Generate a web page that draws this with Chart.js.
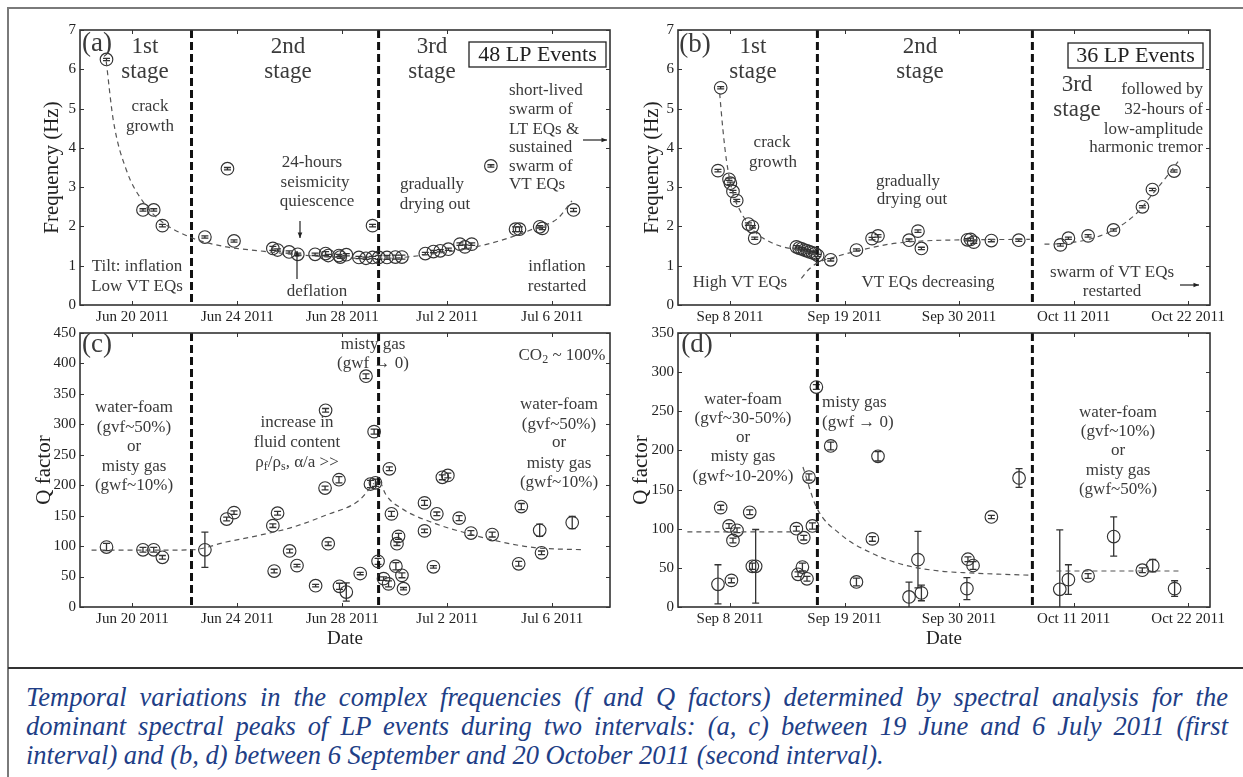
<!DOCTYPE html>
<html>
<head>
<meta charset="utf-8">
<script src="https://cdn.jsdelivr.net/npm/chart.js@4.4.0/dist/chart.umd.min.js"></script>
<style>
  html, body { margin: 0; padding: 0; background: #fff; }
  body { width: 1243px; height: 777px; position: relative; overflow: hidden; }
  canvas { position: absolute; left: 0; top: 0; }
  .rule { position: absolute; }
  #caption { position: absolute; left: 26px; top: 683px; width: 1202px;
             font: italic 26.5px 'Liberation Serif', serif; color: #213e86; line-height: 29px; }
  #caption div { white-space: nowrap; }
  #caption .j { white-space: normal; text-align: justify; text-align-last: justify; }
</style>
</head>
<body>
<div class="rule" style="left:8px;top:7px;width:1235px;height:2px;background:#7a7a7a"></div>
<div class="rule" style="left:7px;top:7px;width:2px;height:770px;background:#7a7a7a"></div>
<div class="rule" style="left:8px;top:667px;width:1235px;height:2px;background:#333"></div>

<canvas id="pa" width="1243" height="665"></canvas>
<canvas id="pb" width="1243" height="665"></canvas>
<canvas id="pc" width="1243" height="665"></canvas>
<canvas id="pd" width="1243" height="665"></canvas>

<div id="caption">
  <div class="j">Temporal variations in the complex frequencies (f and Q factors) determined by spectral analysis for the</div>
  <div class="j">dominant spectral peaks of LP events during two intervals: (a, c) between 19 June and 6 July 2011 (first</div>
  <div>interval) and (b, d) between 6 September and 20 October 2011 (second interval).</div>
</div>

<script>
// ===== First interval (day 0 = 18 June 2011) =====
const ticks1 = [2, 6, 10, 14, 18];
const tickLabels1 = ['Jun 20 2011', 'Jun 24 2011', 'Jun 28 2011', 'Jul 2 2011', 'Jul 6 2011'];
const stageBounds1 = [4.25, 11.38];

// dominant frequency (Hz)
const fDays1 = [1.01, 2.40, 2.81, 3.14, 4.76, 5.62, 5.87, 7.35, 7.53, 7.97, 8.30, 8.96, 9.36, 9.46, 9.87, 9.92,
  10.15, 10.63, 10.90, 11.15, 11.15, 11.39, 11.70, 12.02, 12.27, 13.16, 13.47, 13.73, 14.04, 14.48, 14.67, 14.93,
  15.66, 16.60, 16.75, 17.52, 17.62, 18.81];
const fVals1 = [6.25, 2.42, 2.42, 2.02, 1.73, 3.47, 1.63, 1.44, 1.40, 1.35, 1.29, 1.29, 1.31, 1.26, 1.26, 1.22,
  1.28, 1.21, 1.19, 1.21, 2.02, 1.21, 1.21, 1.22, 1.22, 1.31, 1.36, 1.38, 1.42, 1.55, 1.48, 1.55,
  3.54, 1.93, 1.93, 1.99, 1.95, 2.42];
const fErr1 = [0.03, 0.03, 0.03, 0.03, 0.03, 0.03, 0.03, 0.05, 0.03, 0.03, 0.03, 0.03, 0.05, 0.03, 0.03, 0.03,
  0.03, 0.03, 0.03, 0.03, 0.03, 0.05, 0.05, 0.05, 0.05, 0.03, 0.03, 0.03, 0.03, 0.03, 0.05, 0.03,
  0.03, 0.06, 0.06, 0.03, 0.03, 0.04];
const fitFDays1 = [1.0, 1.27, 1.77, 2.40, 3.04, 4.3, 5.57, 6.83, 8.1, 9.36, 10.63, 11.5, 12.27, 13.54, 14.8, 16.07, 17.33, 18.2, 18.75];
const fitFVals1 = [6.2, 4.7, 3.43, 2.63, 2.16, 1.70, 1.48, 1.38, 1.29, 1.23, 1.19, 1.19, 1.21, 1.31, 1.44, 1.65, 1.95, 2.2, 2.65];

// Q factor
const qDays1 = [1.01, 2.40, 2.81, 3.14, 4.76, 5.59, 5.87, 7.35, 7.40, 7.53, 7.99, 8.27, 8.98, 9.34, 9.36, 9.46,
  9.87, 9.89, 10.15, 10.68, 10.90, 11.07, 11.21, 11.26, 11.36, 11.57, 11.76, 11.79, 11.87, 12.04, 12.08, 12.14,
  12.27, 12.33, 13.13, 13.13, 13.47, 13.60, 13.81, 14.02, 14.45, 14.90, 15.71, 16.72, 16.82, 17.52, 17.59, 18.76];
const qVals1 = [98.5, 94, 94, 81.6, 94, 144.5, 155, 133.6, 59, 154, 92, 68, 35, 195.4, 323, 104,
  209, 34, 24.6, 55, 379, 202, 288, 204, 75, 46.6, 38, 227, 153, 67, 104, 116,
  52, 30, 171, 125, 66, 153, 213, 216, 146, 121.5, 119, 71, 165, 126, 89, 138.6];
const qErr1 = [6, 4, 4, 3, 29, 3, 3, 3, 3, 3, 3, 2, 2, 3, 3, 3,
  5, 5, 15, 2, 4, 6, 4, 6, 5, 3, 5, 3, 4, 6, 3, 5,
  4, 2, 4, 3, 2, 3, 4, 4, 4, 4, 4, 4, 5, 10, 3, 10];
const fitQDays1a = [0.44, 2.0, 3.5, 4.3, 5.57, 6.83, 8.1, 9.36, 10.63, 11.2];
const fitQVals1a = [93.5, 93.5, 93.5, 94, 106.7, 117.7, 131, 150.6, 175, 203];
const fitQDays1b = [11.45, 11.64, 12.27, 13.54, 14.8, 16.07, 17.33, 19.17];
const fitQVals1b = [206, 186, 161.6, 137, 120.5, 106.7, 97.5, 94];

// ===== Second interval (day 0 = 3 September 2011) =====
const ticks2 = [5, 16, 27, 38, 49];
const tickLabels2 = ['Sep 8 2011', 'Sep 19 2011', 'Sep 30 2011', 'Oct 11 2011', 'Oct 22 2011'];
const stageBounds2 = [13.39, 34.04];

const fDays2 = [3.84, 4.10, 4.90, 5.03, 5.28, 5.64, 6.76, 7.15, 7.37, 11.37, 11.63, 11.88, 12.14, 12.40, 12.65,
  12.91, 13.17, 13.42, 14.67, 17.14, 18.64, 19.21, 22.19, 23.05, 23.38, 27.80, 28.10, 28.41, 30.10, 32.73,
  36.73, 37.50, 39.39, 41.83, 44.61, 45.57, 47.65];
const fVals2 = [3.42, 5.53, 3.20, 3.10, 2.89, 2.66, 2.06, 1.99, 1.70, 1.48, 1.45, 1.43, 1.40, 1.38, 1.35,
  1.33, 1.31, 1.26, 1.15, 1.40, 1.69, 1.76, 1.65, 1.88, 1.44, 1.66, 1.67, 1.60, 1.64, 1.65,
  1.53, 1.70, 1.76, 1.91, 2.50, 2.94, 3.41];
const fErr2 = fDays2.map(() => 0.03);
const fitFDays2a = [4.0, 4.32, 4.65, 5.28, 5.93, 7.2, 9.13, 11.37, 13.45];
const fitFVals2a = [5.39, 4.45, 3.69, 2.84, 2.42, 1.91, 1.57, 1.40, 1.27];
const fitFDays2b = [11.85, 12.65, 13.61, 14.89, 17.14, 20.34, 23.54, 28.0, 33.8];
const fitFVals2b = [0.68, 0.93, 1.10, 1.21, 1.37, 1.55, 1.63, 1.66, 1.67];
const fitFDays2c = [35.2, 36.7, 39.87, 42.1, 44.03, 45.63, 46.92, 48.03];
const fitFVals2c = [1.55, 1.56, 1.70, 1.95, 2.33, 2.84, 3.26, 3.65];

const qDays2 = [3.84, 4.10, 4.90, 5.13, 5.28, 5.67, 6.89, 7.14, 7.46, 11.37, 11.53, 11.95, 12.08, 12.39, 12.58,
  12.91, 13.29, 14.67, 17.14, 18.67, 19.21, 22.19, 23.05, 23.38, 27.75, 27.85, 28.34, 30.10, 32.76, 36.67,
  37.50, 39.39, 41.85, 44.60, 45.60, 47.70];
const qVals2 = [29, 127, 103.5, 34, 85, 98, 121, 52, 52, 100, 41.8, 51, 88.6, 36, 166,
  103.5, 281, 205.7, 32, 87, 192.5, 12.8, 60.5, 18, 23.5, 61, 53, 115, 164.8, 22.6,
  35, 39.6, 90, 47, 52.8, 23.5];
const qErr2 = [25, 3, 3, 3, 3, 3, 3, 4, 47, 3, 3, 5, 3, 3, 4,
  4, 3, 5, 5, 3, 6, 19, 36, 10, 14, 3, 5, 2, 12, 76,
  19, 3, 25, 3, 8, 10];
const fitQDays2a = [0.9, 11.1];
const fitQVals2a = [96, 96];
const fitQDays2b = [12.0, 13.29, 15.53, 18.73, 21.94, 25.14, 28.0, 33.95];
const fitQVals2b = [178.8, 127.7, 93.7, 68, 53, 46, 43.5, 40.5];
const fitQDays2c = [36.35, 48.36];
const fitQVals2c = [46, 46];

// ===== drawing helpers =====
const W = 1243, H = 665;
const SERIF = "'Liberation Serif', serif";
const TEXT = '#3a3a3a';
Chart.defaults.font.family = SERIF;

function pts(xs, ys) { return xs.map((x, i) => ({ x: x, y: ys[i] })); }

function markers(xs, ys, errs) {
  return {
    data: pts(xs, ys), errors: errs, pointRadius: 6.3, pointHoverRadius: 6.3, pointBorderWidth: 1.15,
    borderColor: '#333', backgroundColor: 'rgba(0,0,0,0)', pointStyle: 'circle', showLine: false
  };
}
function fitLine(xs, ys) {
  return {
    data: pts(xs, ys), showLine: true, pointRadius: 0, borderColor: '#555', borderWidth: 1.2,
    borderDash: [5, 4], cubicInterpolationMode: 'monotone', fill: false
  };
}

function arrow(ctx, x0, y0, x1, y1) {
  const ang = Math.atan2(y1 - y0, x1 - x0), L = 6;
  ctx.beginPath(); ctx.moveTo(x0, y0); ctx.lineTo(x1, y1); ctx.stroke();
  ctx.beginPath();
  ctx.moveTo(x1, y1);
  ctx.lineTo(x1 - L * Math.cos(ang - 0.4), y1 - L * Math.sin(ang - 0.4));
  ctx.lineTo(x1 - L * Math.cos(ang + 0.4), y1 - L * Math.sin(ang + 0.4));
  ctx.closePath(); ctx.fill();
}

function decor(p) {
  return {
    id: 'decor',
    beforeDatasetsDraw(chart) {
      const { ctx, chartArea: a, scales: { x, y } } = chart;
      ctx.save();
      ctx.beginPath(); ctx.rect(a.left, a.top, a.right - a.left, a.bottom - a.top); ctx.clip();
      // error bars
      ctx.strokeStyle = '#333'; ctx.lineWidth = 1.3;
      chart.data.datasets.forEach(ds => {
        if (!ds.errors) return;
        ds.data.forEach((pt, i) => {
          const e = ds.errors[i];
          const px = x.getPixelForValue(pt.x);
          const y0 = y.getPixelForValue(pt.y - e), y1 = y.getPixelForValue(pt.y + e);
          ctx.beginPath();
          ctx.moveTo(px, y0); ctx.lineTo(px, y1);
          ctx.moveTo(px - 3.5, y0); ctx.lineTo(px + 3.5, y0);
          ctx.moveTo(px - 3.5, y1); ctx.lineTo(px + 3.5, y1);
          ctx.stroke();
        });
      });
      // stage boundaries
      ctx.strokeStyle = '#111'; ctx.lineWidth = 3; ctx.setLineDash([8, 4]);
      p.stages.forEach(d => {
        const px = x.getPixelForValue(d);
        ctx.beginPath(); ctx.moveTo(px, a.top); ctx.lineTo(px, a.bottom); ctx.stroke();
      });
      ctx.restore();
    },
    afterDatasetsDraw(chart) {
      const { ctx, chartArea: a, scales: { x, y } } = chart;
      ctx.save();
      ctx.strokeStyle = '#333'; ctx.lineWidth = 1.6;
      ctx.strokeRect(a.left, a.top, a.right - a.left, a.bottom - a.top);
      ctx.lineWidth = 1;
      ctx.beginPath();
      x.ticks.forEach(t => {
        const px = Math.round(x.getPixelForValue(t.value)) + 0.5;
        ctx.moveTo(px, a.bottom); ctx.lineTo(px, a.bottom - 4);
        ctx.moveTo(px, a.top); ctx.lineTo(px, a.top + 4);
      });
      y.ticks.forEach(t => {
        const py = Math.round(y.getPixelForValue(t.value)) + 0.5;
        ctx.moveTo(a.left, py); ctx.lineTo(a.left + 4, py);
        ctx.moveTo(a.right, py); ctx.lineTo(a.right - 4, py);
      });
      ctx.stroke();
      ctx.restore();
    },
    afterDraw(chart) {
      const { ctx, chartArea: a } = chart;
      ctx.save();
      ctx.fillStyle = '#222'; ctx.textBaseline = 'middle'; ctx.textAlign = 'center';
      // axis titles
      ctx.font = '21px ' + SERIF;
      ctx.save();
      ctx.translate(p.yTitleX, (a.top + a.bottom) / 2);
      ctx.rotate(-Math.PI / 2);
      ctx.fillText(p.yTitle, 0, 0);
      ctx.restore();
      ctx.font = '19px ' + SERIF;
      if (p.xTitle) ctx.fillText(p.xTitle, (a.left + a.right) / 2, 639);
      // annotations
      ctx.fillStyle = TEXT;
      p.notes.forEach(n => {
        if (n.parts) {
          let total = 0;
          n.parts.forEach(pt => { ctx.font = pt[1] + 'px ' + SERIF; total += ctx.measureText(pt[0]).width; });
          let cx = n.x - total / 2;
          ctx.textAlign = 'left';
          n.parts.forEach(pt => {
            ctx.font = pt[1] + 'px ' + SERIF;
            ctx.fillText(pt[0], cx, n.y + (pt[2] || 0));
            cx += ctx.measureText(pt[0]).width;
          });
          return;
        }
        ctx.font = (n.s || 17) + 'px ' + SERIF;
        ctx.textAlign = n.a || 'center';
        ctx.fillText(n.t, n.x, n.y);
      });
      // arrows
      ctx.strokeStyle = '#222'; ctx.fillStyle = '#222'; ctx.lineWidth = 1.2;
      (p.arrows || []).forEach(r => arrow(ctx, r[0], r[1], r[2], r[3]));
      // boxed labels
      (p.boxes || []).forEach(b => {
        ctx.strokeStyle = '#222'; ctx.lineWidth = 1.3;
        ctx.strokeRect(b.x, b.y, b.w, b.h);
        ctx.fillStyle = '#222'; ctx.textAlign = 'center';
        ctx.font = (b.s || 22) + 'px ' + SERIF;
        ctx.fillText(b.t, b.x + b.w / 2, b.y + b.h / 2 + 1);
      });
      ctx.restore();
    }
  };
}

function makePanel(id, p) {
  const a = p.area, YW = 44, XH = 26;
  return new Chart(document.getElementById(id), {
    type: 'scatter',
    data: { datasets: p.datasets },
    options: {
      responsive: false, animation: false, events: [],
      layout: { padding: { left: a.l - YW, top: a.t, right: W - a.r, bottom: H - a.b - XH } },
      plugins: { legend: { display: false }, tooltip: { enabled: false } },
      scales: {
        x: {
          type: 'linear', position: 'bottom', min: p.xMin, max: p.xMax,
          afterBuildTicks: s => { s.ticks = p.ticks.map(v => ({ value: v })); },
          afterFit: s => { s.height = XH; },
          ticks: { autoSkip: false, maxRotation: 0, padding: 3, color: '#222', font: { size: 15 },
                   callback: (v, i) => p.tickLabels[i] },
          grid: { display: false, drawTicks: false }, border: { display: false }
        },
        y: {
          type: 'linear', position: 'left', min: p.yMin, max: p.yMax,
          afterFit: s => { s.width = YW; },
          ticks: { stepSize: p.yStep, padding: 4, color: '#222', font: { size: 15 } },
          grid: { display: false, drawTicks: false }, border: { display: false }
        }
      }
    },
    plugins: [decor(p)]
  });
}

const rhoParts = [['\u03C1', 17], ['f', 12, 4], ['/\u03C1', 17], ['s', 12, 4], [', \u03B1/a >>', 17]];
const co2Parts = [['CO', 17], ['2', 12, 4], [' ~ 100%', 17]];

// (a) frequency, first interval
makePanel('pa', {
  area: { l: 80, t: 30, r: 610, b: 305 }, xMin: 0, xMax: 20.2, yMin: 0, yMax: 7, yStep: 1,
  ticks: ticks1, tickLabels: tickLabels1, stages: stageBounds1,
  yTitle: 'Frequency (Hz)', yTitleX: 52,
  datasets: [fitLine(fitFDays1, fitFVals1), markers(fDays1, fVals1, fErr1)],
  notes: [
    { t: '(a)', x: 97, y: 44, s: 27 },
    { t: '1st', x: 145, y: 47, s: 23 }, { t: 'stage', x: 145, y: 72, s: 23 },
    { t: '2nd', x: 288, y: 47, s: 23 }, { t: 'stage', x: 288, y: 72, s: 23 },
    { t: '3rd', x: 432, y: 47, s: 23 }, { t: 'stage', x: 432, y: 72, s: 23 },
    { t: 'crack', x: 150, y: 107 }, { t: 'growth', x: 150, y: 127 },
    { t: 'Tilt: inflation', x: 137, y: 267 }, { t: 'Low VT EQs', x: 137, y: 287 },
    { t: '24-hours', x: 312, y: 163 }, { t: 'seismicity', x: 315, y: 183 }, { t: 'quiescence', x: 317, y: 202 },
    { t: 'deflation', x: 317, y: 292 },
    { t: 'gradually', x: 432, y: 185 }, { t: 'drying out', x: 435, y: 205 },
    { t: 'short-lived', x: 509, y: 91, a: 'left' }, { t: 'swarm of', x: 509, y: 110, a: 'left' },
    { t: 'LT EQs &', x: 509, y: 130, a: 'left' }, { t: 'sustained', x: 509, y: 148, a: 'left' },
    { t: 'swarm of', x: 509, y: 167, a: 'left' }, { t: 'VT EQs', x: 509, y: 185, a: 'left' },
    { t: 'inflation', x: 557, y: 267 }, { t: 'restarted', x: 557, y: 287 }
  ],
  arrows: [[300, 221, 300, 238], [297, 279, 297, 251], [583, 140, 607, 140]],
  boxes: [{ t: '48 LP Events', x: 469, y: 42, w: 137, h: 25, s: 22 }]
});

// (b) frequency, second interval
makePanel('pb', {
  area: { l: 678, t: 30, r: 1210, b: 305 }, xMin: 0, xMax: 51.1, yMin: 0, yMax: 7, yStep: 1,
  ticks: ticks2, tickLabels: tickLabels2, stages: stageBounds2,
  yTitle: 'Frequency (Hz)', yTitleX: 652,
  datasets: [fitLine(fitFDays2a, fitFVals2a), fitLine(fitFDays2b, fitFVals2b), fitLine(fitFDays2c, fitFVals2c),
             markers(fDays2, fVals2, fErr2)],
  notes: [
    { t: '(b)', x: 695, y: 45, s: 27 },
    { t: '1st', x: 753, y: 47, s: 23 }, { t: 'stage', x: 753, y: 72, s: 23 },
    { t: '2nd', x: 920, y: 47, s: 23 }, { t: 'stage', x: 920, y: 72, s: 23 },
    { t: '3rd', x: 1077, y: 85, s: 23 }, { t: 'stage', x: 1077, y: 110, s: 23 },
    { t: 'crack', x: 772, y: 143 }, { t: 'growth', x: 773, y: 163 },
    { t: 'gradually', x: 908, y: 182 }, { t: 'drying out', x: 912, y: 200 },
    { t: 'High VT EQs', x: 740, y: 283 },
    { t: 'VT EQs decreasing', x: 928, y: 283 },
    { t: 'followed by', x: 1203, y: 90, a: 'right' }, { t: '32-hours of', x: 1203, y: 110, a: 'right' },
    { t: 'low-amplitude', x: 1203, y: 130, a: 'right' }, { t: 'harmonic tremor', x: 1203, y: 148, a: 'right' },
    { t: 'swarm of VT EQs', x: 1112, y: 273 }, { t: 'restarted', x: 1112, y: 292 }
  ],
  arrows: [[1180, 285, 1199, 285]],
  boxes: [{ t: '36 LP Events', x: 1068, y: 43, w: 135, h: 25, s: 22 }]
});

// (c) Q factor, first interval
makePanel('pc', {
  area: { l: 80, t: 333, r: 610, b: 607 }, xMin: 0, xMax: 20.2, yMin: 0, yMax: 450, yStep: 50,
  ticks: ticks1, tickLabels: tickLabels1, stages: stageBounds1,
  yTitle: 'Q factor', yTitleX: 44, xTitle: 'Date',
  datasets: [fitLine(fitQDays1a, fitQVals1a), fitLine(fitQDays1b, fitQVals1b), markers(qDays1, qVals1, qErr1)],
  notes: [
    { t: '(c)', x: 97, y: 345, s: 27 },
    { t: 'water-foam', x: 134, y: 408 }, { t: '(gvf~50%)', x: 134, y: 428 }, { t: 'or', x: 134, y: 447 },
    { t: 'misty gas', x: 134, y: 467 }, { t: '(gwf~10%)', x: 134, y: 486 },
    { t: 'increase in', x: 297, y: 423 }, { t: 'fluid content', x: 297, y: 443 },
    { parts: rhoParts, x: 297, y: 463 },
    { t: 'misty gas', x: 373, y: 345 }, { t: '(gwf \u2192 0)', x: 373, y: 364 },
    { parts: co2Parts, x: 562, y: 356 },
    { t: 'water-foam', x: 559, y: 405 }, { t: '(gvf~50%)', x: 559, y: 425 }, { t: 'or', x: 559, y: 443 },
    { t: 'misty gas', x: 559, y: 464 }, { t: '(gwf~10%)', x: 559, y: 483 }
  ]
});

// (d) Q factor, second interval
makePanel('pd', {
  area: { l: 678, t: 333, r: 1210, b: 607 }, xMin: 0, xMax: 51.1, yMin: 0, yMax: 350, yStep: 50,
  ticks: ticks2, tickLabels: tickLabels2, stages: stageBounds2,
  yTitle: 'Q factor', yTitleX: 641, xTitle: 'Date',
  datasets: [fitLine(fitQDays2a, fitQVals2a), fitLine(fitQDays2b, fitQVals2b), fitLine(fitQDays2c, fitQVals2c),
             markers(qDays2, qVals2, qErr2)],
  notes: [
    { t: '(d)', x: 697, y: 345, s: 27 },
    { t: 'water-foam', x: 743, y: 400 }, { t: '(gvf~30-50%)', x: 743, y: 419 }, { t: 'or', x: 743, y: 438 },
    { t: 'misty gas', x: 743, y: 457 }, { t: '(gwf~10-20%)', x: 743, y: 477 },
    { t: 'misty gas', x: 822, y: 403, a: 'left' }, { t: '(gwf \u2192 0)', x: 822, y: 423, a: 'left' },
    { t: 'water-foam', x: 1118, y: 413 }, { t: '(gvf~10%)', x: 1118, y: 432 }, { t: 'or', x: 1118, y: 451 },
    { t: 'misty gas', x: 1118, y: 471 }, { t: '(gwf~50%)', x: 1118, y: 490 }
  ]
});
</script>
</body>
</html>
